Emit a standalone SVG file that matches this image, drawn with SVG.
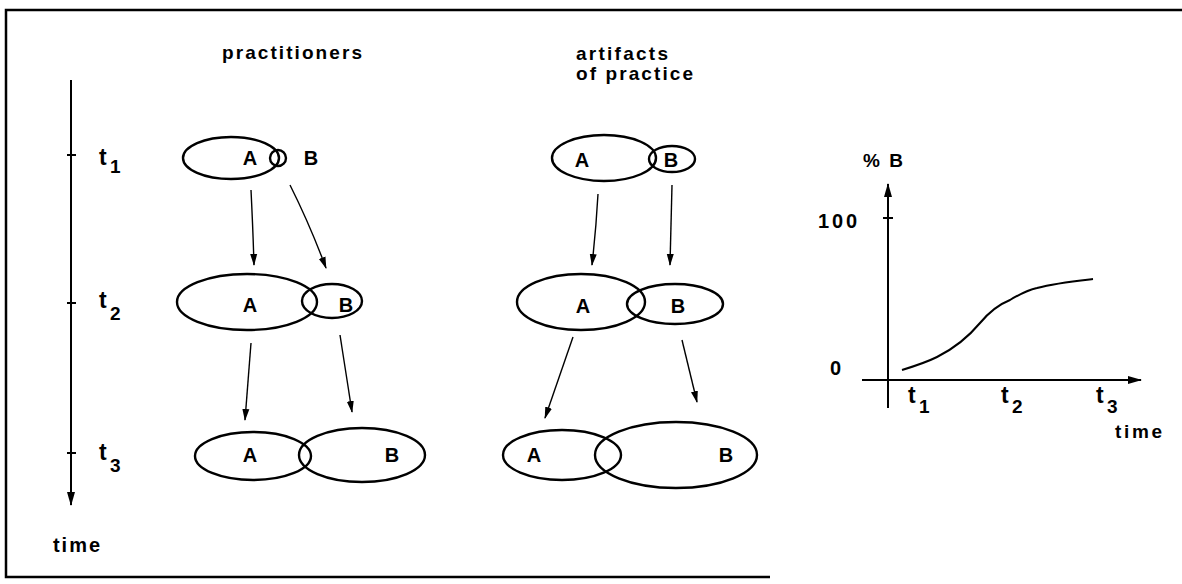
<svg xmlns="http://www.w3.org/2000/svg" width="1182" height="584" viewBox="0 0 1182 584">
<style>
text{font-family:"Liberation Sans",Arial,sans-serif;font-weight:bold;fill:#000}
.lbl{font-size:20px;text-anchor:middle}
.t{font-size:23px}
.sub{font-size:19px}
.title{font-size:19px}
.ell{fill:none;stroke:#000;stroke-width:2.4}
.arr{fill:none;stroke:#000;stroke-width:1.4;marker-end:url(#ah)}
.axis{fill:none;stroke:#000;stroke-width:2}
</style>
<defs>
<marker id="ah" markerUnits="userSpaceOnUse" markerWidth="12" markerHeight="10" viewBox="0 0 12 10" refX="11" refY="5" orient="auto">
<path d="M0,1.5 L12,5 L0,8.5 Z" fill="#000"/>
</marker>
<marker id="ah2" markerUnits="userSpaceOnUse" markerWidth="14" markerHeight="10" viewBox="0 0 14 10" refX="13" refY="5" orient="auto">
<path d="M0,1 L14,5 L0,9 Z" fill="#000"/>
</marker>
</defs>
<rect width="1182" height="584" fill="#fff"/>
<g id="frame" fill="none" stroke="#000" stroke-width="2.5">
<path d="M1182,10 L6,10 L6,577 L770,577"/>
</g>
<g id="headers">
<text class="title" x="222" y="59" textLength="140" lengthAdjust="spacing">practitioners</text>
<text class="title" x="576" y="60" textLength="92" lengthAdjust="spacing">artifacts</text>
<text class="title" x="576" y="80" textLength="117" lengthAdjust="spacing">of practice</text>
</g>
<g id="time-axis">
<path class="axis" d="M71,80 L71,505" marker-end="url(#ah2)"/>
<path class="axis" d="M67,155 L76,155 M67,303 L76,303 M67,453 L76,453"/>
<text class="t" x="99" y="165">t</text><text class="sub" x="110" y="173">1</text>
<text class="t" x="99" y="308">t</text><text class="sub" x="110" y="320">2</text>
<text class="t" x="99" y="460">t</text><text class="sub" x="110" y="472">3</text>
<text x="53" y="552" font-size="20" textLength="47" lengthAdjust="spacing">time</text>
</g>
<g id="prac-t1">
<ellipse class="ell" cx="231" cy="158" rx="48" ry="21"/>
<circle class="ell" cx="278" cy="158" r="8"/>
<text class="lbl" x="250" y="165">A</text>
<text class="lbl" x="311" y="165">B</text>
</g>
<g id="prac-t2">
<ellipse class="ell" cx="247" cy="302" rx="70" ry="28"/>
<ellipse class="ell" cx="332" cy="301" rx="30" ry="17"/>
<text class="lbl" x="250" y="312">A</text>
<text class="lbl" x="346" y="312">B</text>
</g>
<g id="prac-t3">
<ellipse class="ell" cx="253" cy="456" rx="58" ry="24"/>
<ellipse class="ell" cx="362" cy="455" rx="63" ry="27"/>
<text class="lbl" x="250" y="462">A</text>
<text class="lbl" x="392" y="462">B</text>
</g>
<g id="art-t1">
<ellipse class="ell" cx="604" cy="158" rx="52" ry="23"/>
<ellipse class="ell" cx="672" cy="159" rx="23" ry="13"/>
<text class="lbl" x="582" y="167">A</text>
<text class="lbl" x="671" y="167">B</text>
</g>
<g id="art-t2">
<ellipse class="ell" cx="581" cy="302" rx="64" ry="28"/>
<ellipse class="ell" cx="675" cy="304" rx="48" ry="20"/>
<text class="lbl" x="583" y="313">A</text>
<text class="lbl" x="678" y="313">B</text>
</g>
<g id="art-t3">
<ellipse class="ell" cx="562" cy="455" rx="59" ry="25"/>
<ellipse class="ell" cx="676" cy="455" rx="81" ry="33"/>
<text class="lbl" x="534" y="462">A</text>
<text class="lbl" x="726" y="462">B</text>
</g>
<g id="connectors">
<path class="arr" d="M251,190 Q253,230 254,265"/>
<path class="arr" d="M290,185 Q310,225 326,268"/>
<path class="arr" d="M251,343 L245,420"/>
<path class="arr" d="M340,335 L352,412"/>
<path class="arr" d="M598,194 Q596,230 592,265"/>
<path class="arr" d="M672,185 L670,265"/>
<path class="arr" d="M573,337 L545,418"/>
<path class="arr" d="M682,340 L697,402"/>
</g>
<g id="graph">
<path class="axis" d="M888,408 L888,184" marker-end="url(#ah2)"/>
<path class="axis" d="M862,380 L1141,380" marker-end="url(#ah2)"/>
<path class="axis" d="M883,218 L893,218"/>
<path fill="none" stroke="#000" stroke-width="2" d="M902,370 C915,366 927,362 937,357 C955,348 970,335 980,323 C990,311 1000,304 1010,300 C1020,294 1028,290 1037,288 C1055,283 1075,281 1093,279"/>
<text x="863" y="167" font-size="19" textLength="40" lengthAdjust="spacing">% B</text>
<text x="818" y="228" font-size="20" textLength="39" lengthAdjust="spacing">100</text>
<text x="830" y="375" font-size="20">0</text>
<text class="t" x="908" y="403">t</text><text class="sub" x="919" y="413">1</text>
<text class="t" x="1001" y="403">t</text><text class="sub" x="1012" y="413">2</text>
<text class="t" x="1096" y="403">t</text><text class="sub" x="1107" y="413">3</text>
<text x="1115" y="438" font-size="19" textLength="47" lengthAdjust="spacing">time</text>
</g>
</svg>
